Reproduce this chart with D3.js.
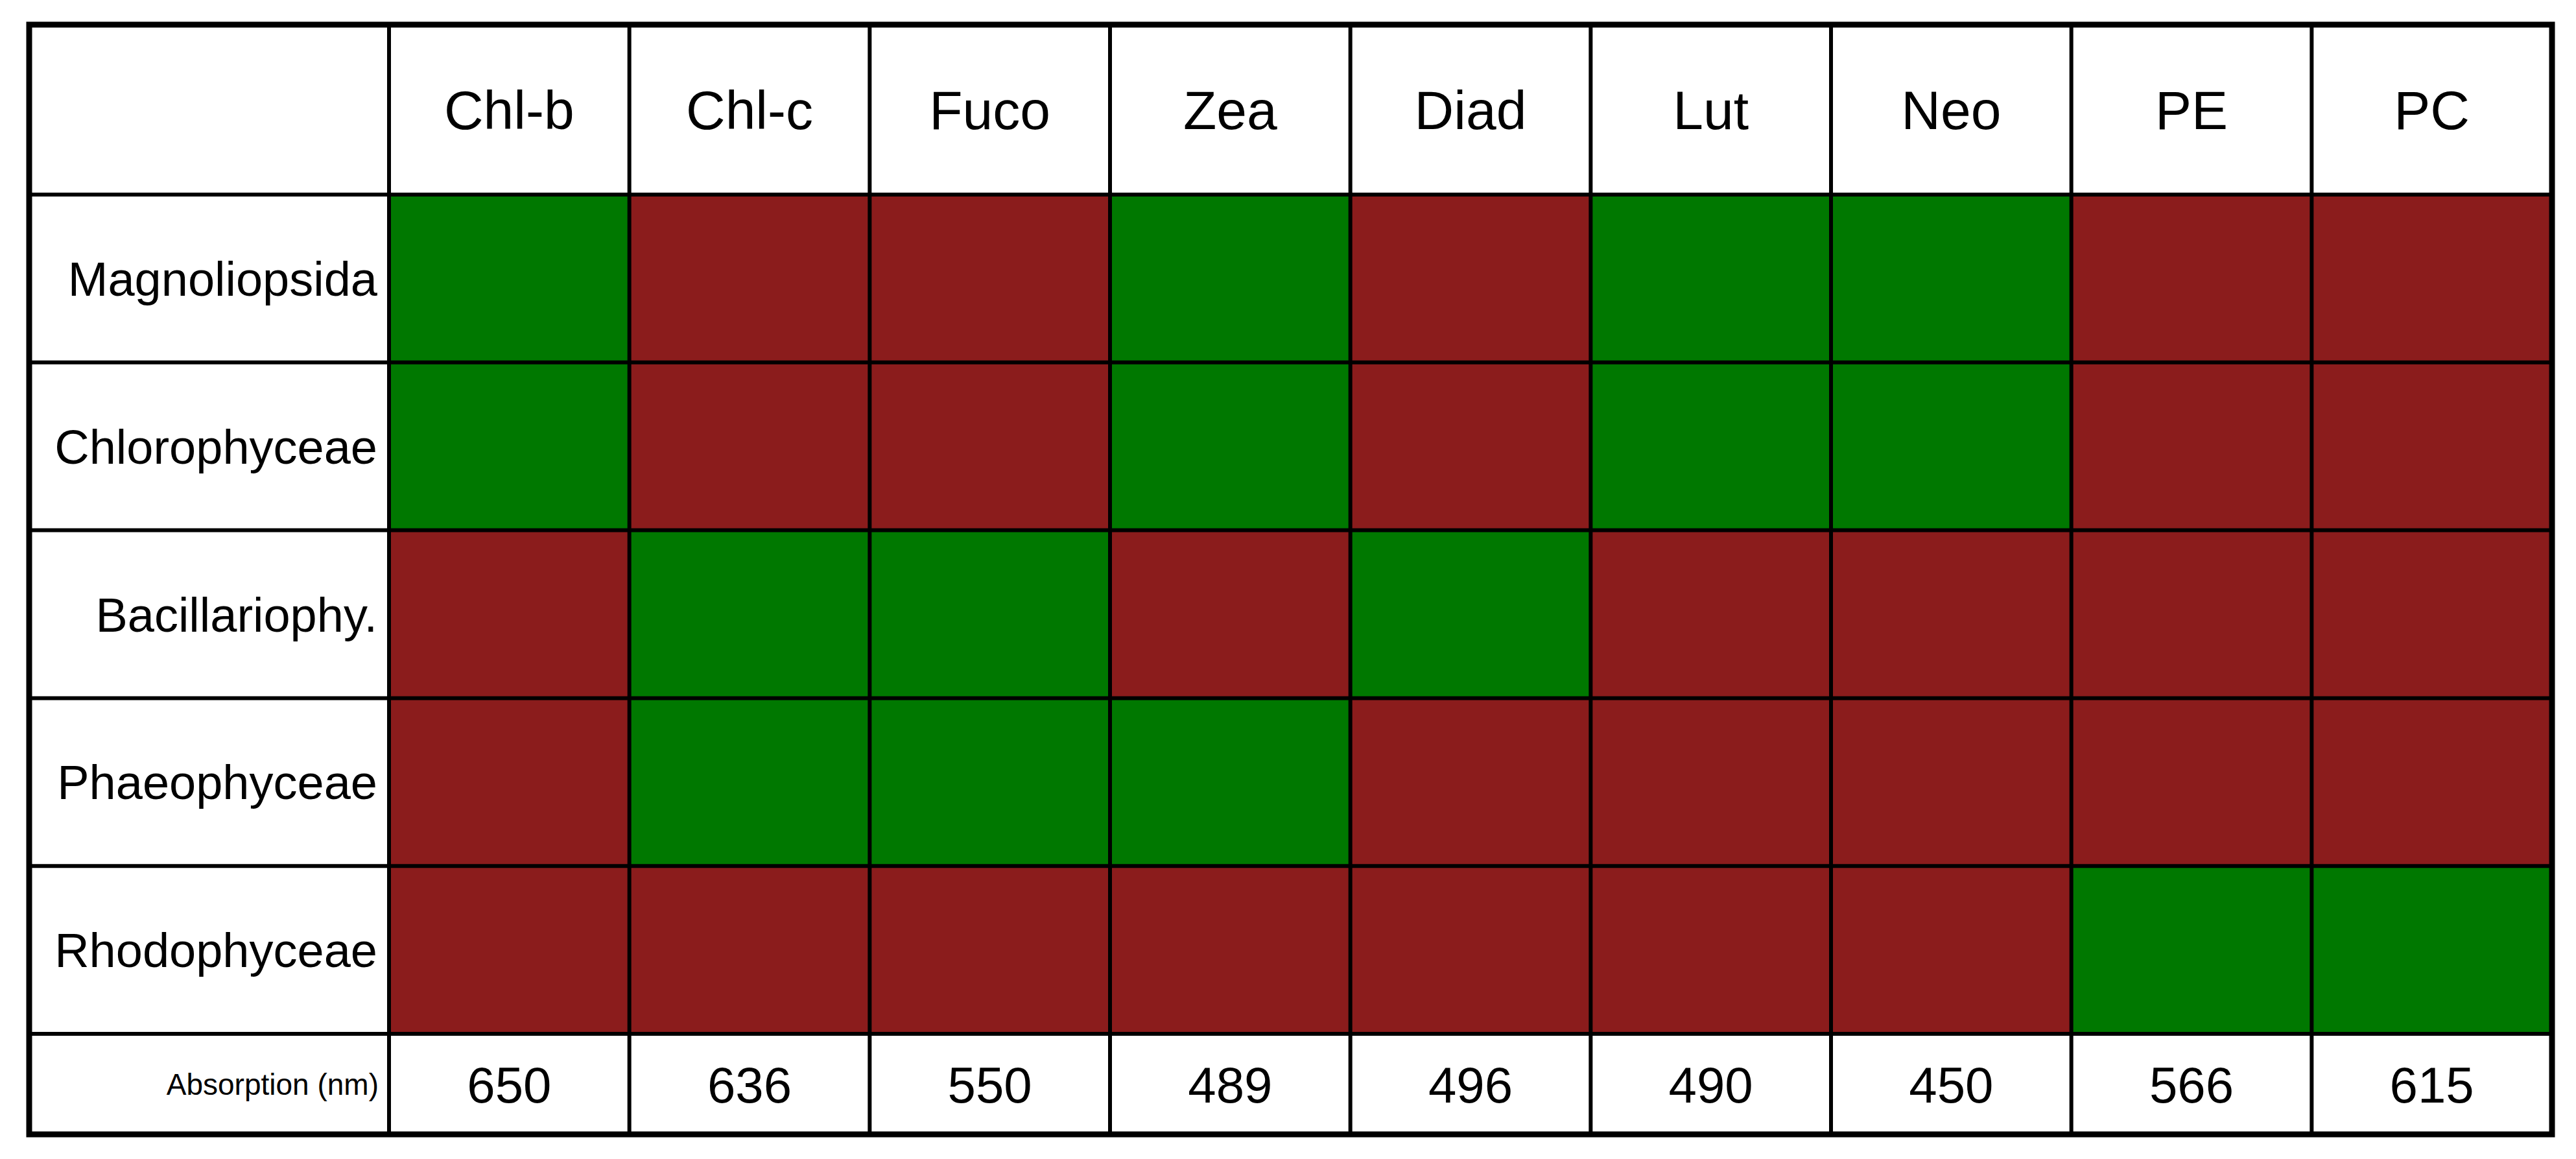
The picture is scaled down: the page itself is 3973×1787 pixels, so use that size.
<!DOCTYPE html>
<html><head><meta charset="utf-8">
<script src="https://cdn.jsdelivr.net/npm/d3@7"></script>
<style>body{margin:0;background:#fff}</style>
</head><body>
<script>
var pigments = ["Chl-b","Chl-c","Fuco","Zea","Diad","Lut","Neo","PE","PC"];
var classes = ["Magnoliopsida","Chlorophyceae","Bacillariophy.","Phaeophyceae","Rhodophyceae"];
// 1 = pigment present, 0 = absent
var presence = [
  [1,0,0,1,0,1,1,0,0],
  [1,0,0,1,0,1,1,0,0],
  [0,1,1,0,1,0,0,0,0],
  [0,1,1,1,0,0,0,0,0],
  [0,0,0,0,0,0,0,1,1]
];
var absorption = [650,636,550,489,496,490,450,566,615];

var W = 3973, H = 1787;
var leftX = 45, labelW = 555, rightX = 3936;
var topY = 38, headH = 262, rowH = 258.8, footH = 155;

var svg = d3.select("body").append("svg").attr("width",W).attr("height",H)
  .style("font-family","'Liberation Sans', Arial, sans-serif");

var x = d3.scaleBand().domain(pigments).range([leftX+labelW, rightX]);
var y = d3.scaleBand().domain(classes).range([topY+headH, topY+headH+rowH*classes.length]);
var color = d3.scaleOrdinal().domain([0,1]).range(["#8b1c1c","#007800"]);
var bottomY = y.range()[1] + footH;

var cells = [];
presence.forEach(function(row,i){
  row.forEach(function(v,j){ cells.push({c:classes[i], p:pigments[j], v:v}); });
});

svg.selectAll("rect.cell").data(cells).enter().append("rect")
  .attr("class","cell")
  .attr("x",function(d){return x(d.p);}).attr("y",function(d){return y(d.c);})
  .attr("width",x.bandwidth()).attr("height",y.bandwidth())
  .attr("fill",function(d){return color(d.v);});

// grid lines
var g = svg.append("g").attr("stroke","#000").attr("stroke-width",6);
var vx = [leftX+labelW].concat(pigments.map(function(p){return x(p)+x.bandwidth();}));
vx.forEach(function(v){ g.append("line").attr("x1",v).attr("x2",v).attr("y1",topY).attr("y2",bottomY); });
var hy = [topY+headH].concat(classes.map(function(c){return y(c)+y.bandwidth();}));
hy.forEach(function(v){ g.append("line").attr("x1",leftX).attr("x2",rightX).attr("y1",v).attr("y2",v); });
svg.append("rect").attr("x",leftX).attr("y",topY).attr("width",rightX-leftX).attr("height",bottomY-topY)
  .attr("fill","none").attr("stroke","#000").attr("stroke-width",9);

// header
svg.selectAll("text.head").data(pigments).enter().append("text")
  .attr("class","head")
  .attr("x",function(d){return x(d)+x.bandwidth()/2;})
  .attr("y",topY+headH/2).attr("dy","0.36em")
  .attr("text-anchor","middle").attr("font-size",84).text(function(d){return d;});

// row labels
svg.selectAll("text.row").data(classes).enter().append("text")
  .attr("class","row")
  .attr("x",leftX+labelW-18)
  .attr("y",function(d){return y(d)+y.bandwidth()/2;}).attr("dy","0.36em")
  .attr("text-anchor","end").attr("font-size",74).text(function(d){return d;});

// absorption row
var fy = y.range()[1] + footH/2;
svg.append("text").attr("x",leftX+labelW-16).attr("y",fy).attr("dy","0.36em")
  .attr("text-anchor","end").attr("font-size",46).text("Absorption (nm)");
svg.selectAll("text.abs").data(absorption).enter().append("text")
  .attr("class","abs")
  .attr("x",function(d,i){return x(pigments[i])+x.bandwidth()/2;})
  .attr("y",fy).attr("dy","0.36em")
  .attr("text-anchor","middle").attr("font-size",78).text(function(d){return d;});
</script>
</body></html>
